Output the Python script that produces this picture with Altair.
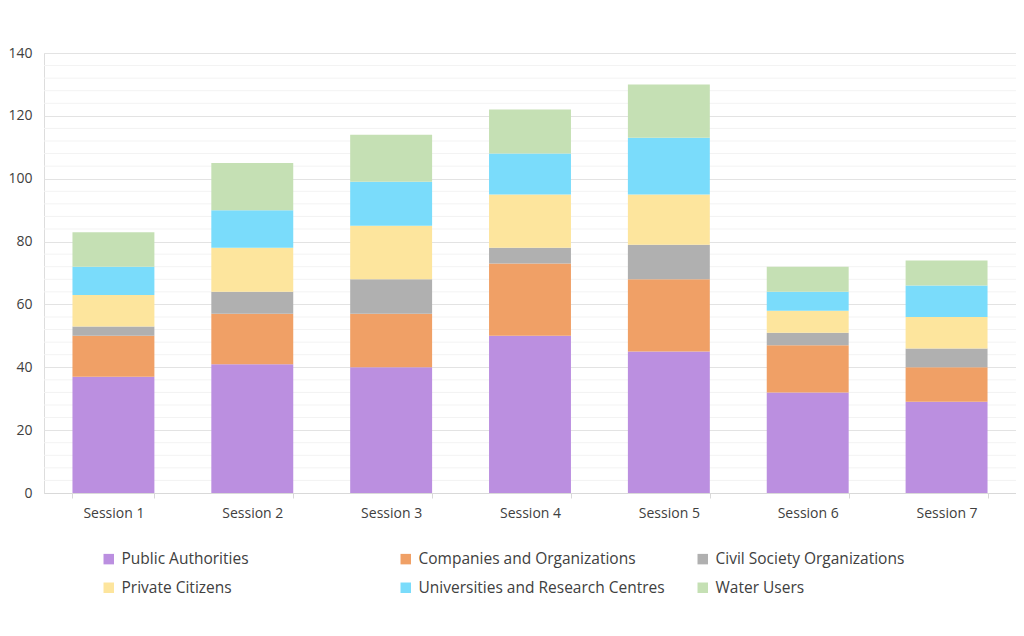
import altair as alt
import pandas as pd

sessions = ["Session 1", "Session 2", "Session 3", "Session 4", "Session 5", "Session 6", "Session 7"]
series = ["Public Authorities", "Companies and Organizations", "Civil Society Organizations",
          "Private Citizens", "Universities and Research Centres", "Water Users"]
colors = ["#BB8FE0", "#F0A066", "#B0B0B0", "#FDE59D", "#7ADCFB", "#C5E0B4"]

public = [37, 41, 40, 50, 45, 32, 29]
companies = [13, 16, 17, 23, 23, 15, 11]
civil = [3, 7, 11, 5, 11, 4, 6]
private = [10, 14, 17, 17, 16, 7, 10]
universities = [9, 12, 14, 13, 18, 6, 10]
water = [11, 15, 15, 14, 17, 8, 8]

minor_ticks = [v for v in range(0, 141, 4) if v % 20 != 0]

rows = []
for si, (name, vals) in enumerate(zip(series, [public, companies, civil, private, universities, water])):
    for s, v in zip(sessions, vals):
        rows.append({"session": s, "series": name, "value": v, "order": si})
df = pd.DataFrame(rows)
minor_df = pd.DataFrame({"v": minor_ticks})

FONT = "Open Sans"
yscale = alt.Scale(domain=[0, 140], nice=False)

minor = alt.Chart(minor_df).mark_rule(color="#F3F3F3", strokeWidth=1).encode(
    y=alt.Y("v:Q", scale=yscale)
)

bars = alt.Chart(df).mark_bar().encode(
    x=alt.X("session:N", sort=sessions, title=None,
            scale=alt.Scale(paddingInner=0.41, paddingOuter=0.205),
            axis=alt.Axis(labelAngle=0, labelFontSize=14, labelColor="#404040", labelFont=FONT,
                          domainColor="#D9D9D9", tickColor="#D9D9D9", tickBand="extent",
                          tickSize=5, labelPadding=8)),
    y=alt.Y("value:Q", stack="zero", scale=yscale, title=None,
            axis=alt.Axis(values=[0, 20, 40, 60, 80, 100, 120, 140], labelFontSize=14,
                          labelColor="#404040", labelFont=FONT, domain=False, ticks=False,
                          gridColor="#E3E3E3", labelPadding=12)),
    color=alt.Color("series:N", scale=alt.Scale(domain=series, range=colors), title=None,
                    legend=alt.Legend(orient="none", legendX=57, legendY=498, columns=3,
                                      direction="horizontal",
                                      gridAlign="all", columnPadding=30, rowPadding=12,
                                      symbolType="square", symbolSize=110, symbolStrokeWidth=0,
                                      labelFontSize=15.5, labelFont=FONT, labelColor="#404040",
                                      labelLimit=400, symbolOffset=0, labelOffset=5)),
    order=alt.Order("order:Q", sort="ascending"),
)

chart = alt.layer(minor, bars).properties(
    width=972, height=440,
    autosize=alt.AutoSizeParams(type="none"),
    padding={"left": 36, "top": 45, "right": 0, "bottom": 120},
).configure_view(stroke=None).configure(background="white")

chart.save("out.html", embed_options={"renderer": "svg", "actions": False})
